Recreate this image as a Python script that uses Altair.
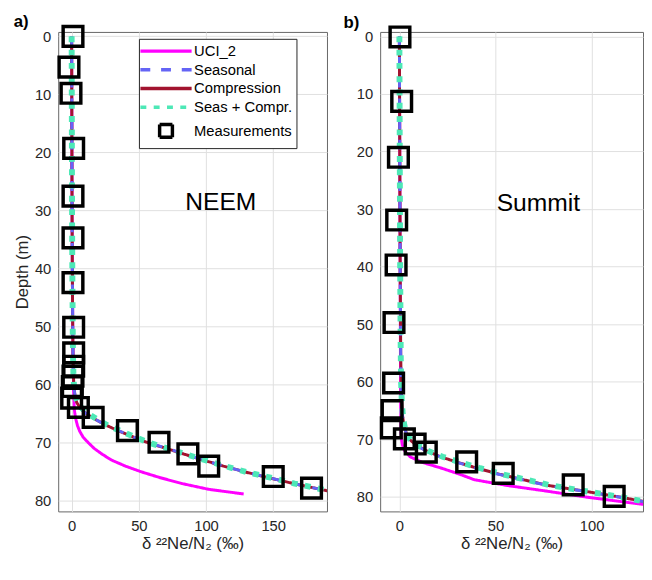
import altair as alt
import pandas as pd

FONT = "Liberation Sans"

# ---------------- series styling ----------------
SERIES = ["UCI_2", "Seasonal", "Compression", "Seas + Compr.", "Measurements"]
SERIES_COLORS = ["#ff00ff", "#6464f5", "#a2142f", "#4de8b6", "#000000"]
SERIES_DASHES = [[1, 0], [10, 11], [1, 0], [6, 7.5], [1, 0]]
SERIES_SHAPES = ["M-4,0H4", "M-4,0H4", "M-4,0H4", "M-4,0H4", "square"]

Y_TICKS = [0, 10, 20, 30, 40, 50, 60, 70, 80]
X_TICKS_NEEM = [0, 50, 100, 150]
X_TICKS_SUMMIT = [0, 50, 100]

# ---------------- NEEM (panel a) ----------------
neem_model_depth = [0, 10, 20, 30, 40, 50, 55, 58, 60, 61, 62, 63, 64, 65, 66, 67,
                    68, 69, 70, 71, 72, 73, 74, 75, 76, 77, 78, 79]
neem_seasonal = [0, 0.1, 0.2, 0.3, 0.5, 0.8, 1.0, 1.3, 1.6, 2.0, 2.6, 3.6, 6, 11, 18, 26,
                 36, 46, 57, 72, 85, 99, 113, 129, 147, 165, 185, 207]
neem_compression = [0, 0.1, 0.2, 0.3, 0.5, 0.8, 1.0, 1.3, 1.6, 2.0, 2.6, 3.7, 6.2, 11, 18, 26,
                    35.5, 46, 57, 71, 84.5, 98.5, 113, 129, 146.5, 165, 185, 206]
neem_seas_compr = [0, 0.1, 0.2, 0.3, 0.5, 0.8, 1.0, 1.3, 1.7, 2.1, 2.8, 4.2, 7.5, 12.5, 19.5, 27,
                   37, 47, 58, 72, 85.5, 99.5, 114, 130, 148, 166, 186, 208]

neem_uci_depth = [0, 10, 20, 30, 40, 50, 55, 60, 62, 63, 64, 65, 66, 67, 68, 69, 70, 71,
                  72, 73, 74, 75, 76, 77, 78, 78.8]
neem_uci = [0, 0.1, 0.2, 0.3, 0.5, 0.8, 1.0, 1.4, 1.6, 1.8, 1.9, 2.4, 3.2, 4.3, 6, 8.5, 12.5, 17,
            23, 30, 40, 52, 66, 82, 102, 128]

neem_meas_depth = [0, 5.3, 9.8, 19.3, 27.5, 34.7, 42.4, 50.1, 54.5, 56.8, 58.5, 60.3, 62.3,
                   63.9, 65.6, 67.9, 69.9, 71.9, 74.0, 75.8, 77.8]
neem_meas = [1, -2, -0.5, 1.5, 1, 1, 1, 1.5, 1.5, 1.5, 1, 0.5, 0, 5, 16, 41.5, 65, 86.5, 102,
             150, 178.5]

# ---------------- Summit (panel b) ----------------
summit_model_depth = [0, 10, 20, 30, 40, 50, 55, 60, 63, 65, 66, 67, 68, 69, 70, 71, 72, 73,
                      74, 75, 76, 77, 78, 79, 80, 81, 82]
summit_seasonal = [0, 0.1, 0.2, 0.3, 0.4, 0.6, 0.7, 0.9, 1.1, 1.4, 1.7, 2.1, 2.7, 3.6, 5.2, 8.5,
                   14, 21, 30, 40, 51, 64, 77, 96, 114, 130, 150]
summit_compression = [0, 0.1, 0.2, 0.3, 0.4, 0.6, 0.7, 0.9, 1.1, 1.4, 1.7, 2.1, 2.7, 3.7, 5.3,
                      8.7, 14.3, 21.3, 30.5, 40.5, 51.5, 64.5, 77.5, 96.5, 114.5, 130.5, 150.5]
summit_seas_compr = [0, 0.1, 0.2, 0.3, 0.4, 0.6, 0.7, 0.9, 1.2, 1.6, 1.9, 2.3, 2.9, 3.9, 5.6, 9.5,
                     15, 22.5, 32, 42, 53, 66, 79, 97, 115, 131, 151]

summit_uci_depth = [0, 10, 20, 30, 40, 50, 60, 65, 68, 69, 70, 71, 72, 73, 74, 75, 76, 77, 78,
                    79, 80, 81, 82]
summit_uci = [0, 0.1, 0.2, 0.3, 0.4, 0.5, 0.6, 0.7, 0.8, 0.9, 1.1, 1.6, 2.8, 5.5, 12, 22, 31,
              39, 56, 77, 97, 120, 145]

summit_meas_depth = [0.1, 11.3, 21, 31.9, 39.7, 49.7, 60.2, 65.0, 68.0, 69.9, 70.8, 72.2, 73.9,
                     75.9, 77.9, 79.9]
summit_meas = [0.3, 1.2, -0.5, -1.4, -1.7, -2.8, -3, -3.8, -4.2, 2.6, 8.2, 14, 35, 54, 90.4,
               111.7]


def line_df(depth, vals, name):
    return pd.DataFrame({"depth": depth, "delta": vals, "series": name,
                         "i": list(range(len(depth)))})


def panel(lines, meas_depth, meas_vals, xdom, ydom, xticks, w, h, site, site_x, site_y,
          letter, letter_dx, show_legend, show_ytitle):
    xs = alt.Scale(domain=xdom, nice=False, zero=False)
    ys = alt.Scale(domain=ydom, reverse=True, nice=False, zero=False)
    x_enc = alt.X("delta:Q", scale=xs,
                  axis=alt.Axis(values=xticks, title="δ ²²Ne/N₂ (‰)", labelFlush=False))
    y_enc = alt.Y("depth:Q", scale=ys,
                  axis=alt.Axis(values=Y_TICKS, title="Depth (m)" if show_ytitle else None,
                                labelFlush=False))
    if show_legend:
        leg = alt.Legend(orient="none", legendX=82, legendY=7, title=None,
                         symbolSize=169, symbolOffset=15, labelOffset=20,
                         symbolStrokeWidth=3.5, symbolFillColor="transparent",
                         labelFont=FONT, labelFontSize=15, labelColor="#000000",
                         strokeColor="#262626", fillColor="white", padding=4,
                         rowPadding=2, labelLimit=0)
    else:
        leg = None
    color = alt.Color("series:N", scale=alt.Scale(domain=SERIES, range=SERIES_COLORS), legend=leg)
    dash = alt.StrokeDash("series:N", scale=alt.Scale(domain=SERIES, range=SERIES_DASHES), legend=leg)
    shape = alt.Shape("series:N", scale=alt.Scale(domain=SERIES, range=SERIES_SHAPES), legend=leg)

    layers = []
    for name, sw in [("UCI_2", 3), ("Compression", 3), ("Seasonal", 3), ("Seas + Compr.", 6)]:
        layers.append(
            alt.Chart(lines[name]).mark_line(strokeWidth=sw, clip=True, strokeCap="butt")
            .encode(x=x_enc, y=y_enc, order="i:Q", color=color, strokeDash=dash)
        )
    meas_df = pd.DataFrame({"depth": meas_depth, "delta": meas_vals, "series": "Measurements"})
    layers.append(
        alt.Chart(meas_df).mark_point(filled=False, size=400, strokeWidth=3.5, opacity=1)
        .encode(x=x_enc, y=y_enc, color=color, shape=shape)
    )
    site_df = pd.DataFrame({"delta": [site_x], "depth": [site_y], "t": [site]})
    layers.append(
        alt.Chart(site_df).mark_text(font=FONT, fontSize=25, color="#000000")
        .encode(x=x_enc, y=y_enc, text="t:N")
    )
    return alt.layer(*layers).properties(
        width=w, height=h,
        title=alt.TitleParams(letter, anchor="start", frame="bounds", font=FONT, fontSize=17,
                              fontWeight="bold", color="#000000", dx=letter_dx, offset=-12),
    )


neem_lines = {
    "UCI_2": line_df(neem_uci_depth, neem_uci, "UCI_2"),
    "Seasonal": line_df(neem_model_depth, neem_seasonal, "Seasonal"),
    "Compression": line_df(neem_model_depth, neem_compression, "Compression"),
    "Seas + Compr.": line_df(neem_model_depth, neem_seas_compr, "Seas + Compr."),
}
summit_lines = {
    "UCI_2": line_df(summit_uci_depth, summit_uci, "UCI_2"),
    "Seasonal": line_df(summit_model_depth, summit_seasonal, "Seasonal"),
    "Compression": line_df(summit_model_depth, summit_compression, "Compression"),
    "Seas + Compr.": line_df(summit_model_depth, summit_seas_compr, "Seas + Compr."),
}

left = panel(neem_lines, neem_meas_depth, neem_meas, [-10, 190], [-0.76, 81.8], X_TICKS_NEEM,
             273, 487, "NEEM", 111, 28.6, "\u2002a)", 0, True, True)
right = panel(summit_lines, summit_meas_depth, summit_meas, [-10, 126.7], [-0.77, 82.5],
              X_TICKS_SUMMIT, 267, 487, "Summit", 72.3, 28.9, "b)", -13, False, False)

chart = (
    alt.hconcat(left, right, spacing=14)
    .resolve_scale(x="independent", y="independent", color="independent",
                   strokeDash="independent", shape="independent")
    .resolve_legend(color="independent", strokeDash="independent", shape="independent")
    .properties(padding={"left": 5, "top": 0, "right": 0, "bottom": 0}, background="white")
    .configure_view(stroke="#666666", strokeWidth=1, fill="white")
    .configure_axis(grid=True, gridColor="#dfdfdf", gridWidth=1, domain=False, ticks=False,
                    labelFont=FONT, labelFontSize=15, labelColor="#262626",
                    titleFont=FONT, titleFontSize=17, titleFontWeight="normal",
                    titleColor="#262626")
    .configure_axisY(labelPadding=7.5, titlePadding=3)
    .configure_axisX(labelPadding=7, titlePadding=3)
)

chart.save("out.html", embed_options={"renderer": "svg", "actions": False})
